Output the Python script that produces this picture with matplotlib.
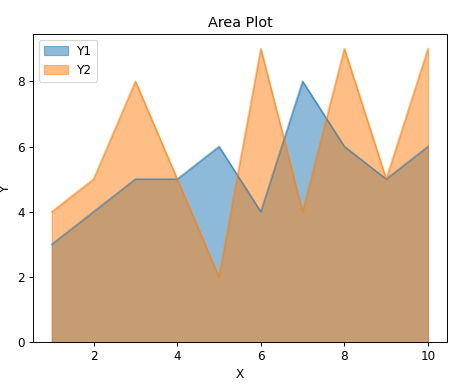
import matplotlib
matplotlib.use("Agg")
import matplotlib.pyplot as plt

x = [1, 2, 3, 4, 5, 6, 7, 8, 9, 10]
y1 = [3, 4, 5, 5, 6, 4, 8, 6, 5, 6]
y2 = [4, 5, 8, 5, 2, 9, 4, 9, 5, 9]

dpi = 86
fig, ax = plt.subplots(figsize=(463 / dpi, 387 / dpi), dpi=dpi)
fig.subplots_adjust(left=0.0713, right=0.965, top=0.912, bottom=0.116)
ax.fill_between(x, y1, alpha=0.5, label="Y1", color="#1f77b4")
ax.plot(x, y1, color="#1f77b4", alpha=0.5)
ax.fill_between(x, y2, alpha=0.5, label="Y2", color="#ff7f0e")
ax.plot(x, y2, color="#ff7f0e", alpha=0.5)
ax.set_ylim(bottom=0)
ax.set_title("Area Plot")
ax.set_xlabel("X")
ax.set_ylabel("Y")
ax.legend(loc="upper left")
fig.savefig("out.png", dpi=dpi)
